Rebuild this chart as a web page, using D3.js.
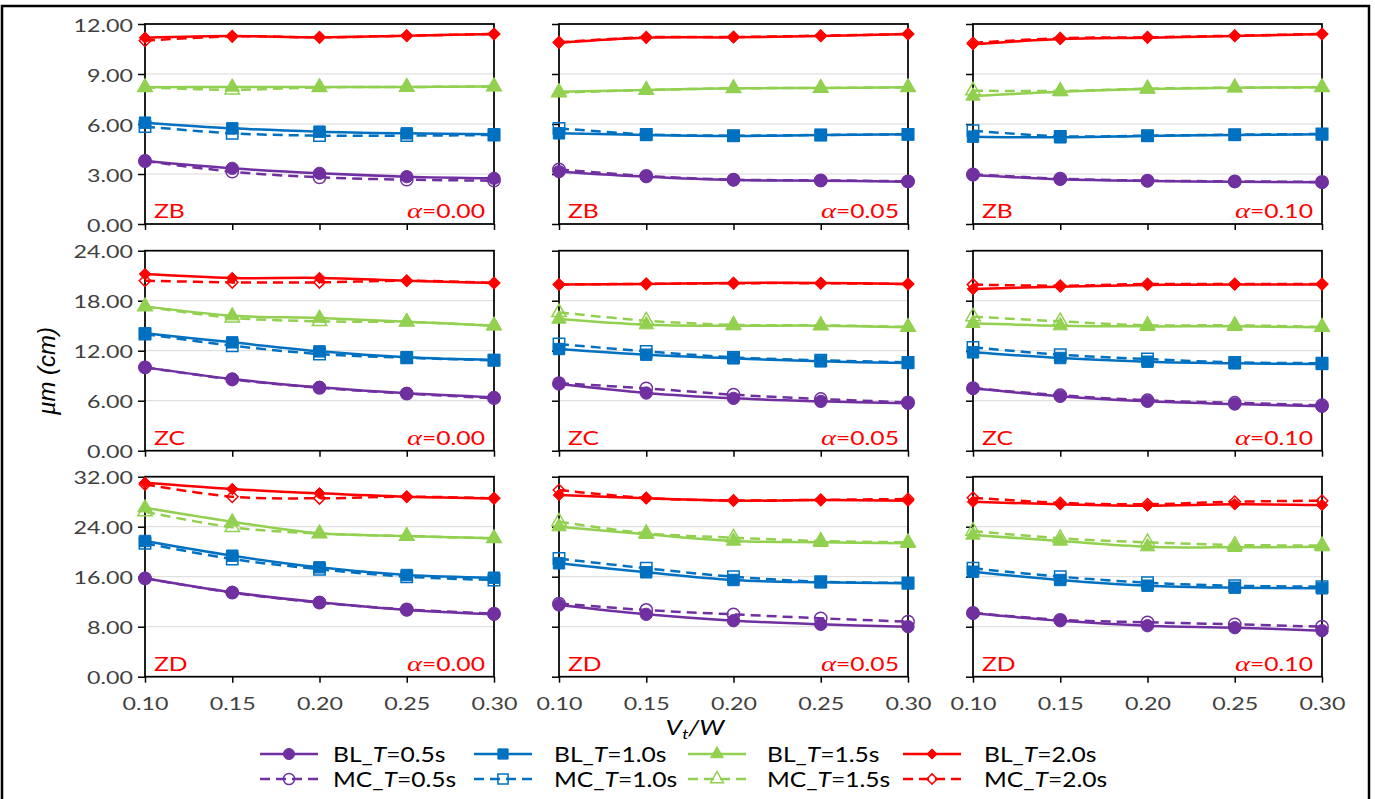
<!DOCTYPE html>
<html>
<head>
<meta charset="utf-8">
<script src="https://cdn.jsdelivr.net/npm/d3@7"></script>
<style>
  body { margin: 0; background: #fff; }
  svg { display: block; }
  text { font-family: Lato, "Liberation Sans", sans-serif; }
</style>
</head>
<body>
<svg id="chart" width="1375" height="799"></svg>
<script>
// ---- data -------------------------------------------------------------
const vtw = [0.10, 0.15, 0.20, 0.25, 0.30];
const zones = ["ZB", "ZC", "ZD"];
const alphas = ["0.00", "0.05", "0.10"];
const periods = ["0.5", "1.0", "1.5", "2.0"];
const yMaxByZone = [12, 24, 32];
const yTicksByZone = [[0, 3, 6, 9, 12], [0, 6, 12, 18, 24], [0, 8, 16, 24, 32]];

// each array: rows are T = 0.5, 1.0, 1.5, 2.0 s; columns follow vtw
const blZB_a000 = [[3.78, 3.34, 3.04, 2.84, 2.74], [6.08, 5.74, 5.54, 5.44, 5.38], [8.20, 8.22, 8.22, 8.22, 8.25], [11.18, 11.28, 11.20, 11.30, 11.40]];
const mcZB_a000 = [[3.78, 3.14, 2.80, 2.66, 2.60], [5.84, 5.44, 5.30, 5.30, 5.34], [8.20, 8.05, 8.20, 8.22, 8.25], [11.00, 11.26, 11.20, 11.30, 11.40]];
const blZB_a005 = [[3.14, 2.84, 2.64, 2.60, 2.54], [5.44, 5.34, 5.28, 5.34, 5.38], [7.94, 8.04, 8.14, 8.16, 8.20], [10.88, 11.18, 11.20, 11.28, 11.40]];
const mcZB_a005 = [[3.28, 2.88, 2.66, 2.62, 2.56], [5.74, 5.38, 5.30, 5.34, 5.38], [7.88, 8.04, 8.14, 8.16, 8.20], [10.90, 11.20, 11.22, 11.30, 11.40]];
const blZB_a010 = [[2.94, 2.68, 2.58, 2.54, 2.50], [5.24, 5.20, 5.28, 5.34, 5.38], [7.68, 7.94, 8.10, 8.18, 8.20], [10.78, 11.10, 11.18, 11.28, 11.40]];
const mcZB_a010 = [[2.98, 2.72, 2.60, 2.56, 2.52], [5.60, 5.26, 5.30, 5.36, 5.40], [8.00, 7.98, 8.12, 8.18, 8.20], [10.86, 11.15, 11.20, 11.30, 11.40]];

const blZC_a000 = [[10.00, 8.60, 7.60, 6.88, 6.40], [14.08, 13.00, 11.92, 11.20, 10.88], [17.32, 16.20, 15.92, 15.48, 15.00], [21.20, 20.73, 20.73, 20.40, 20.13]];
const mcZC_a000 = [[10.00, 8.55, 7.55, 6.85, 6.30], [14.00, 12.60, 11.60, 11.15, 10.85], [17.30, 15.95, 15.52, 15.45, 15.00], [20.40, 20.20, 20.20, 20.40, 20.13]];
const blZC_a005 = [[8.00, 6.92, 6.28, 5.92, 5.68], [12.20, 11.52, 11.08, 10.72, 10.52], [15.80, 15.12, 15.00, 15.00, 14.80], [19.93, 20.00, 20.13, 20.13, 20.00]];
const mcZC_a005 = [[8.10, 7.48, 6.72, 6.20, 5.80], [12.80, 11.92, 11.20, 10.85, 10.60], [16.60, 15.60, 15.10, 15.05, 14.85], [19.95, 20.02, 20.10, 20.10, 20.00]];
const blZC_a010 = [[7.48, 6.52, 5.92, 5.60, 5.32], [11.80, 11.12, 10.68, 10.48, 10.40], [15.28, 15.00, 14.92, 14.92, 14.80], [19.40, 19.68, 19.88, 19.93, 19.93]];
const mcZC_a010 = [[7.50, 6.65, 6.05, 5.75, 5.45], [12.40, 11.52, 11.00, 10.60, 10.50], [16.08, 15.52, 15.05, 15.05, 14.85], [19.93, 19.80, 20.00, 20.00, 20.00]];

const blZD_a000 = [[15.74, 13.50, 11.90, 10.67, 9.98], [21.71, 19.36, 17.50, 16.27, 15.84], [27.04, 24.80, 22.94, 22.51, 22.14], [31.04, 30.03, 29.34, 28.80, 28.54]];
const mcZD_a000 = [[15.74, 13.45, 11.85, 10.75, 10.10], [21.34, 18.83, 17.20, 16.00, 15.47], [26.40, 23.90, 22.90, 22.50, 22.14], [30.78, 28.80, 28.54, 28.80, 28.54]];
const blZD_a005 = [[11.47, 9.98, 8.96, 8.38, 8.00], [18.14, 16.70, 15.47, 15.10, 14.94], [24.00, 22.78, 21.71, 21.50, 21.34], [29.07, 28.54, 28.16, 28.27, 28.16]];
const mcZD_a005 = [[11.70, 10.67, 9.98, 9.34, 8.80], [18.90, 17.34, 16.00, 15.20, 15.00], [24.80, 22.94, 22.24, 21.71, 21.50], [29.87, 28.60, 28.20, 28.30, 28.43]];
const blZD_a010 = [[10.14, 8.96, 8.16, 7.84, 7.36], [16.80, 15.47, 14.56, 14.24, 14.14], [22.67, 21.71, 20.80, 20.70, 20.80], [28.00, 27.58, 27.36, 27.58, 27.47]];
const mcZD_a010 = [[10.20, 9.10, 8.70, 8.38, 8.00], [17.34, 16.00, 15.04, 14.56, 14.40], [23.31, 22.14, 21.50, 21.07, 21.00], [28.64, 27.80, 27.60, 28.00, 28.16]];

const blGrid = [[blZB_a000, blZB_a005, blZB_a010], [blZC_a000, blZC_a005, blZC_a010], [blZD_a000, blZD_a005, blZD_a010]];
const mcGrid = [[mcZB_a000, mcZB_a005, mcZB_a010], [mcZC_a000, mcZC_a005, mcZC_a010], [mcZD_a000, mcZD_a005, mcZD_a010]];

// ---- styling ----------------------------------------------------------
const colors = ["#7030A0", "#0070C0", "#92D050", "#FF0000"];
const diamond = {
  draw(ctx, size) {
    const r = Math.sqrt(size / 2);
    ctx.moveTo(0, -r); ctx.lineTo(r, 0); ctx.lineTo(0, r); ctx.lineTo(-r, 0); ctx.closePath();
  }
};
const shapes = [d3.symbolCircle, d3.symbolSquare, d3.symbolTriangle, diamond];
const shapeSize = [120, 130, 90, 66];
const SX = 1.33;           // horizontal text stretch
const FS = 17.5;           // tick / annotation font size
const textColor = "#404040";
const dashPattern = "10,6";

const svg = d3.select("#chart");

// outer frame
svg.append("rect")
  .attr("x", 2).attr("y", 6).attr("width", 1367).attr("height", 830)
  .attr("fill", "none").attr("stroke", "#000").attr("stroke-width", 2.5);

const colLeft = [145, 559, 973];
const panelW = 349;
const rowTop = [24, 250.7, 476.7];
const panelH = 200;

function wideText(parent, x, y, anchor, size, sx) {
  return parent.append("text")
    .attr("transform", `translate(${x},${y}) scale(${sx},1)`)
    .attr("text-anchor", anchor)
    .style("font-size", size + "px");
}

const line = d3.line().curve(d3.curveCatmullRom.alpha(0.5));

zones.forEach((zone, r) => {
  alphas.forEach((alpha, c) => {
    const x0 = colLeft[c], y0 = rowTop[r];
    const x = d3.scaleLinear().domain([0.10, 0.30]).range([0, panelW]);
    const y = d3.scaleLinear().domain([0, yMaxByZone[r]]).range([panelH, 0]);
    const g = svg.append("g").attr("transform", `translate(${x0},${y0})`);

    // horizontal gridlines
    g.selectAll("line.grid")
      .data(yTicksByZone[r].slice(1, -1))
      .join("line")
      .attr("class", "grid")
      .attr("x1", 0).attr("x2", panelW)
      .attr("y1", d => y(d)).attr("y2", d => y(d))
      .attr("stroke", "#d9d9d9").attr("stroke-width", 1);

    // axes
    const ya = g.append("g").call(
      d3.axisLeft(y).tickValues(yTicksByZone[r]).tickSize(7).tickSizeOuter(0)
        .tickFormat(c === 0 ? d3.format(".2f") : () => ""));
    const xa = g.append("g").attr("transform", `translate(0,${panelH})`).call(
      d3.axisBottom(x).tickValues(vtw).tickSize(6).tickSizeOuter(0)
        .tickFormat(r === 2 ? d3.format(".2f") : () => ""));
    [ya, xa].forEach(a => {
      a.select(".domain").remove();
      a.selectAll(".tick line").attr("stroke", "#000").attr("stroke-width", 1.5);
      a.selectAll(".tick text")
        .attr("fill", textColor)
        .style("font-size", FS + "px")
        .style("font-family", "Lato, 'Liberation Sans', sans-serif");
    });
    ya.selectAll(".tick text").attr("x", -12 / SX).attr("dy", "0.4em").attr("transform", `scale(${SX},1)`);
    xa.selectAll(".tick text").attr("y", 21).attr("dy", "0.7em").attr("transform", `scale(${SX},1)`);

    // plot-area frame
    g.append("rect").attr("width", panelW).attr("height", panelH)
      .attr("fill", "none").attr("stroke", "#000").attr("stroke-width", 1.75);

    // series: BL solid with filled markers, MC dashed with open markers
    const groups = [
      { data: blGrid[r][c], dash: null, open: false },
      { data: mcGrid[r][c], dash: dashPattern, open: true }
    ];
    groups.forEach(grp => {
      grp.data.forEach((vals, k) => {
        const pts = vals.map((v, i) => [x(vtw[i]), y(v)]);
        g.append("path")
          .attr("d", line(pts))
          .attr("fill", "none")
          .attr("stroke", colors[k])
          .attr("stroke-width", 2.5)
          .attr("stroke-dasharray", grp.dash);
        g.selectAll(null).data(pts).join("path")
          .attr("transform", d => `translate(${d[0]},${d[1]})`)
          .attr("d", d3.symbol(shapes[k], shapeSize[k]))
          .attr("fill", grp.open ? "none" : colors[k])
          .attr("stroke", colors[k])
          .attr("stroke-width", grp.open ? 1.5 : 1);
      });
    });

    // panel annotations
    wideText(g, 9, panelH - 6, "start", 19, 1.3).attr("fill", "#FF0000").text(zone);
    const at = wideText(g, panelW - 9, panelH - 6, "end", 19, 1.3).attr("fill", "#FF0000");
    at.append("tspan").style("font-family", "'Liberation Serif', serif").style("font-style", "italic")
      .style("font-size", "22px").text("α");
    at.append("tspan").text("=" + alpha);
  });
});

// y-axis title
const yt = svg.append("text")
  .attr("transform", "translate(55,371) rotate(-90)")
  .attr("text-anchor", "middle")
  .attr("fill", "#000")
  .style("font-size", "27px")
  .style("font-style", "italic");
yt.append("tspan").style("font-family", "'Liberation Serif', serif").text("μ");
yt.append("tspan").style("font-family", "'Liberation Sans', sans-serif").style("font-size", "24px").text("m");
yt.append("tspan").style("font-family", "'Liberation Sans', sans-serif").style("font-size", "24px").text(" (cm)");

// x-axis title
const xt = wideText(svg, 695, 735, "middle", 21, 1.25).attr("fill", "#000").style("font-style", "italic");
xt.append("tspan").text("V");
xt.append("tspan").attr("dy", 4).style("font-size", "14px").text("t");
xt.append("tspan").attr("dy", -4).text("/W");

// legend
const legLineX = [260, 474, 688, 903];
const legTextX = [333, 554, 767, 984];
const legRowY = [754, 779];
const legPrefix = ["BL", "MC"];
legPrefix.forEach((pre, row) => {
  periods.forEach((p, k) => {
    const ly = legRowY[row];
    svg.append("line")
      .attr("x1", legLineX[k]).attr("x2", legLineX[k] + 58)
      .attr("y1", ly).attr("y2", ly)
      .attr("stroke", colors[k]).attr("stroke-width", 2.5)
      .attr("stroke-dasharray", row === 1 ? dashPattern : null);
    svg.append("path")
      .attr("transform", `translate(${legLineX[k] + 29},${ly})`)
      .attr("d", d3.symbol(shapes[k], shapeSize[k] * 0.8))
      .attr("fill", row === 1 ? "none" : colors[k])
      .attr("stroke", colors[k]).attr("stroke-width", row === 1 ? 1.5 : 1);
    const t = wideText(svg, legTextX[k], ly + 7.5, "start", 20.5, 1.2).attr("fill", "#000");
    t.append("tspan").text(pre + "_");
    t.append("tspan").style("font-style", "italic").text("T");
    t.append("tspan").text("=" + p + "s");
  });
});
</script>
</body>
</html>
